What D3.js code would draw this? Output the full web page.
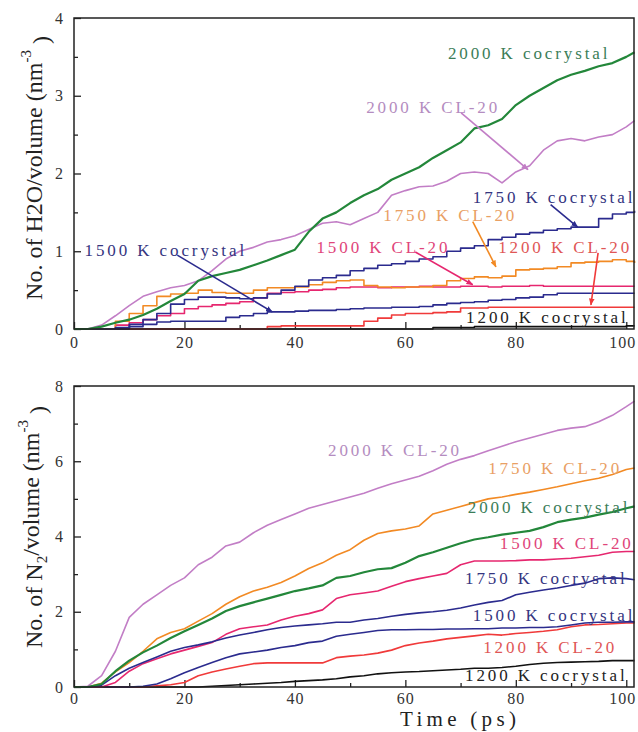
<!DOCTYPE html>
<html>
<head>
<meta charset="utf-8">
<script src="https://cdn.jsdelivr.net/npm/d3@7"></script>
<style>
  body { margin: 0; background: #fff; }
  text { font-family: "Liberation Serif", "Times New Roman", serif; }
</style>
</head>
<body>
<svg width="638" height="732"></svg>
<script>
// time grid (ps) shared by every curve
const TIME = [0, 2.5, 5, 7.5, 10, 12.5, 15, 17.5, 20, 22.5, 25, 27.5, 30, 32.5, 35, 37.5, 40,
    42.5, 45, 47.5, 50, 52.5, 55, 57.5, 60, 62.5, 65, 67.5, 70, 72.5, 75, 77.5, 80, 82.5, 85,
    87.5, 90, 92.5, 95, 97.5, 100, 101.5];

const X_TICKS = [0, 20, 40, 60, 80, 100];
const H2O_TICKS = [0, 1, 2, 3, 4];
const N2_TICKS = [0, 2, 4, 6, 8];

// H2O per volume (nm^-3)
const h2oCo2000 = [0, 0, 0.03, 0.08, 0.12, 0.18, 0.26, 0.36, 0.45, 0.62, 0.68, 0.72, 0.76, 0.82, 0.88, 0.95, 1.02, 1.25, 1.42, 1.5, 1.62, 1.72, 1.8, 1.92, 2.0, 2.08, 2.2, 2.3, 2.4, 2.58, 2.62, 2.7, 2.88, 3.0, 3.1, 3.2, 3.27, 3.32, 3.38, 3.42, 3.5, 3.56];
const h2oCl2000 = [0, 0, 0.05, 0.17, 0.3, 0.42, 0.48, 0.53, 0.56, 0.62, 0.75, 0.9, 1.0, 1.05, 1.12, 1.15, 1.2, 1.28, 1.36, 1.38, 1.34, 1.42, 1.5, 1.72, 1.78, 1.83, 1.84, 1.9, 2.0, 2.02, 2.0, 1.88, 2.02, 2.1, 2.3, 2.42, 2.45, 2.42, 2.47, 2.5, 2.6, 2.68];
const h2oCo1750 = [0, 0, 0, 0.02, 0.06, 0.12, 0.2, 0.32, 0.38, 0.41, 0.41, 0.4, 0.39, 0.4, 0.45, 0.5, 0.55, 0.63, 0.66, 0.69, 0.75, 0.78, 0.82, 0.84, 0.87, 0.9, 0.93, 1.0, 1.04, 1.07, 1.15, 1.18, 1.22, 1.24, 1.27, 1.29, 1.31, 1.31, 1.42, 1.48, 1.5, 1.52];
const h2oCl1750 = [0, 0, 0, 0.1, 0.2, 0.3, 0.42, 0.45, 0.46, 0.5, 0.47, 0.46, 0.46, 0.5, 0.53, 0.53, 0.54, 0.57, 0.6, 0.62, 0.63, 0.56, 0.54, 0.53, 0.54, 0.54, 0.56, 0.62, 0.65, 0.67, 0.66, 0.68, 0.76, 0.77, 0.78, 0.8, 0.85, 0.86, 0.87, 0.89, 0.87, 0.85];
const h2oCl1500 = [0, 0, 0, 0.05, 0.08, 0.12, 0.17, 0.2, 0.26, 0.29, 0.31, 0.33, 0.35, 0.4, 0.46, 0.47, 0.48, 0.5, 0.51, 0.53, 0.54, 0.54, 0.53, 0.54, 0.54, 0.55, 0.54, 0.54, 0.55, 0.55, 0.54, 0.55, 0.55, 0.56, 0.55, 0.55, 0.55, 0.55, 0.55, 0.55, 0.55, 0.55];
const h2oCo1500 = [0, 0, 0, 0, 0.03, 0.06, 0.09, 0.1, 0.1, 0.1, 0.1, 0.15, 0.17, 0.2, 0.22, 0.22, 0.23, 0.24, 0.24, 0.25, 0.26, 0.27, 0.27, 0.28, 0.28, 0.29, 0.31, 0.33, 0.34, 0.35, 0.37, 0.38, 0.4, 0.41, 0.44, 0.46, 0.46, 0.46, 0.46, 0.46, 0.46, 0.46];
const h2oCl1200 = [0, 0, 0, 0, 0, 0, 0, 0, 0, 0, 0, 0, 0, 0, 0.03, 0.04, 0.04, 0.04, 0.04, 0.04, 0.04, 0.1, 0.14, 0.18, 0.2, 0.2, 0.21, 0.22, 0.27, 0.27, 0.28, 0.28, 0.28, 0.28, 0.28, 0.28, 0.28, 0.28, 0.28, 0.28, 0.28, 0.28];
const h2oCo1200 = [0, 0, 0, 0, 0, 0, 0, 0, 0, 0, 0, 0, 0, 0, 0, 0, 0, 0, 0, 0, 0, 0, 0, 0, 0, 0, 0.02, 0.02, 0.02, 0.03, 0.03, 0.03, 0.03, 0.03, 0.03, 0.03, 0.03, 0.03, 0.03, 0.03, 0.04, 0.04];

// N2 per volume (nm^-3)
const n2Cl2000 = [0, 0.02, 0.3, 0.95, 1.85, 2.2, 2.45, 2.7, 2.9, 3.25, 3.45, 3.75, 3.85, 4.1, 4.3, 4.45, 4.6, 4.75, 4.85, 4.95, 5.05, 5.15, 5.28, 5.4, 5.5, 5.6, 5.75, 5.92, 6.05, 6.15, 6.28, 6.4, 6.52, 6.62, 6.72, 6.82, 6.88, 6.92, 7.05, 7.22, 7.45, 7.6];
const n2Cl1750 = [0, 0, 0.1, 0.4, 0.65, 0.95, 1.28, 1.45, 1.55, 1.75, 1.95, 2.2, 2.4, 2.55, 2.65, 2.78, 2.95, 3.15, 3.3, 3.5, 3.65, 3.9, 4.08, 4.15, 4.2, 4.28, 4.6, 4.7, 4.8, 4.9, 5.0, 5.05, 5.12, 5.18, 5.25, 5.32, 5.4, 5.48, 5.55, 5.65, 5.78, 5.82];
const n2Co2000 = [0, 0, 0.08, 0.42, 0.7, 0.92, 1.1, 1.3, 1.48, 1.65, 1.82, 2.02, 2.15, 2.25, 2.35, 2.45, 2.55, 2.62, 2.7, 2.9, 2.95, 3.05, 3.13, 3.16, 3.3, 3.48, 3.58, 3.7, 3.82, 3.92, 3.98, 4.05, 4.1, 4.15, 4.25, 4.38, 4.45, 4.5, 4.58, 4.65, 4.75, 4.8];
const n2Cl1500 = [0, 0, 0, 0.12, 0.42, 0.62, 0.75, 0.88, 0.98, 1.08, 1.18, 1.4, 1.55, 1.6, 1.65, 1.78, 1.88, 1.95, 2.05, 2.35, 2.45, 2.5, 2.55, 2.68, 2.8, 2.88, 2.95, 3.02, 3.25, 3.35, 3.35, 3.35, 3.36, 3.38, 3.38, 3.4, 3.42, 3.46, 3.5, 3.58, 3.6, 3.6];
const n2Co1750 = [0, 0, 0.05, 0.3, 0.5, 0.65, 0.8, 0.95, 1.05, 1.12, 1.2, 1.3, 1.38, 1.45, 1.52, 1.58, 1.62, 1.65, 1.68, 1.72, 1.72, 1.78, 1.82, 1.88, 1.93, 1.97, 2.0, 2.04, 2.1, 2.18, 2.25, 2.3, 2.45, 2.52, 2.58, 2.63, 2.7, 2.76, 2.88, 2.9, 2.88, 2.85];
const n2Co1500 = [0, 0, 0, 0, 0, 0.02, 0.08, 0.22, 0.38, 0.52, 0.65, 0.78, 0.88, 0.93, 0.98, 1.05, 1.1, 1.18, 1.22, 1.35, 1.4, 1.45, 1.5, 1.52, 1.52, 1.53, 1.53, 1.54, 1.54, 1.55, 1.55, 1.57, 1.57, 1.58, 1.58, 1.6, 1.65, 1.7, 1.72, 1.72, 1.73, 1.73];
const n2Cl1200 = [0, 0, 0, 0, 0, 0, 0.03, 0.06, 0.12, 0.3, 0.4, 0.48, 0.55, 0.62, 0.64, 0.64, 0.64, 0.64, 0.64, 0.78, 0.82, 0.85, 0.9, 0.98, 1.1, 1.17, 1.22, 1.28, 1.32, 1.36, 1.4, 1.38, 1.42, 1.45, 1.48, 1.52, 1.6, 1.65, 1.66, 1.68, 1.7, 1.7];
const n2Co1200 = [0, 0, 0, 0, 0, 0, 0, 0, 0, 0, 0.02, 0.04, 0.06, 0.08, 0.1, 0.12, 0.15, 0.17, 0.19, 0.22, 0.27, 0.3, 0.35, 0.38, 0.4, 0.41, 0.43, 0.45, 0.47, 0.5, 0.5, 0.52, 0.55, 0.6, 0.63, 0.65, 0.66, 0.67, 0.68, 0.7, 0.7, 0.7];

// series names, in drawing order (bottom first)
const NAMES = ["1200 K cocrystal", "1200 K CL-20", "1500 K cocrystal", "1500 K CL-20",
    "1750 K CL-20", "1750 K cocrystal", "2000 K CL-20", "2000 K cocrystal"];
const H2O_SERIES = [h2oCo1200, h2oCl1200, h2oCo1500, h2oCl1500, h2oCl1750, h2oCo1750, h2oCl2000, h2oCo2000];
const N2_SERIES = [n2Co1200, n2Cl1200, n2Co1500, n2Cl1500, n2Cl1750, n2Co1750, n2Cl2000, n2Co2000];

// label anchors (start of text, baseline) in data units, and arrows [from, to]
const H2O_LABELS = [
    { name: "2000 K cocrystal", at: [67.7, 3.47] },
    { name: "2000 K CL-20", at: [52.9, 2.78], arrow: [[70.1, 2.78], [82.2, 2.05]] },
    { name: "1750 K cocrystal", at: [72.2, 1.62], arrow: [[86.3, 1.6], [91.2, 1.31]] },
    { name: "1750 K CL-20", at: [56.0, 1.39], arrow: [[72.2, 1.38], [76.4, 0.8]] },
    { name: "1500 K CL-20", at: [43.9, 0.98], arrow: [[61.8, 0.99], [72.2, 0.57]] },
    { name: "1200 K CL-20", at: [76.8, 0.98], arrow: [[94.9, 0.98], [93.6, 0.31]] },
    { name: "1500 K cocrystal", at: [1.9, 0.94], arrow: [[18.7, 0.95], [35.9, 0.22]] },
    { name: "1200 K cocrystal", at: [71.0, 0.08] }
];
const N2_LABELS = [
    { name: "2000 K CL-20", at: [46.0, 6.14] },
    { name: "1750 K CL-20", at: [75.0, 5.66] },
    { name: "2000 K cocrystal", at: [71.3, 4.63] },
    { name: "1500 K CL-20", at: [77.1, 3.67] },
    { name: "1750 K cocrystal", at: [70.8, 2.74] },
    { name: "1500 K cocrystal", at: [72.2, 1.76] },
    { name: "1200 K CL-20", at: [74.1, 0.9] },
    { name: "1200 K cocrystal", at: [70.8, 0.16] }
];

// styles
var lineColor = {
    "2000 K cocrystal": "#23873a", "2000 K CL-20": "#c27ec6",
    "1750 K cocrystal": "#2b2b8e", "1750 K CL-20": "#f28a24",
    "1500 K cocrystal": "#2b2b8e", "1500 K CL-20": "#e6276f",
    "1200 K cocrystal": "#111111", "1200 K CL-20": "#f03a3a"
};
var labelColor = {
    "2000 K cocrystal": "#3b7d58", "2000 K CL-20": "#b48cc0",
    "1750 K cocrystal": "#35357f", "1750 K CL-20": "#e9a064",
    "1500 K cocrystal": "#35357f", "1500 K CL-20": "#e0457a",
    "1200 K cocrystal": "#222222", "1200 K CL-20": "#e05656"
};

var svg = d3.select("svg");
var left = 74, right = 634;

var x = d3.scaleLinear().domain([0, 101.4]).range([left, right]);

// arrow heads, one per colour
var defs = svg.append("defs");
NAMES.forEach(function (n, i) {
    defs.append("marker")
        .attr("id", "head" + i)
        .attr("viewBox", "0 0 10 10")
        .attr("refX", 9).attr("refY", 5)
        .attr("markerWidth", 7).attr("markerHeight", 7)
        .attr("markerUnits", "userSpaceOnUse")
        .attr("orient", "auto")
        .append("path")
        .attr("d", "M0,1L10,5L0,9Z")
        .attr("fill", lineColor[n]);
});

function drawPanel(opt) {
    var y = d3.scaleLinear().domain([0, opt.yMax]).range([opt.bottom, opt.top]);
    var g = svg.append("g");

    // minor + major ticks, pointing inward
    g.append("g")
        .attr("transform", "translate(" + left + ",0)")
        .call(d3.axisLeft(y).tickValues(opt.yMinor).tickSize(-4).tickFormat(""))
        .call(a => a.select(".domain").remove());
    g.append("g")
        .attr("class", "yaxis")
        .attr("transform", "translate(" + left + ",0)")
        .call(d3.axisLeft(y).tickValues(opt.yTicks).tickSize(-7).tickPadding(11).tickFormat(d3.format("d")))
        .call(a => a.select(".domain").remove());
    g.append("g")
        .attr("transform", "translate(0," + opt.bottom + ")")
        .call(d3.axisBottom(x).tickValues([10, 30, 50, 70, 90]).tickSize(-4).tickFormat(""))
        .call(a => a.select(".domain").remove());
    g.append("g")
        .attr("class", "xaxis")
        .attr("transform", "translate(0," + opt.bottom + ")")
        .call(d3.axisBottom(x).tickValues(X_TICKS).tickSize(-7).tickPadding(opt.xPad))
        .call(a => a.select(".domain").remove());

    g.selectAll(".tick line").attr("stroke", "#222").attr("stroke-width", 1.3);
    g.selectAll(".tick text")
        .attr("font-family", "Liberation Serif")
        .attr("font-size", 16)
        .attr("fill", "#333");
    g.selectAll(".xaxis .tick text")
        .attr("letter-spacing", "1px")
        .attr("dx", d => d === 100 ? -4 : 0);

    // curves
    var plot = g.append("g");
    opt.series.forEach(function (vals, i) {
        var name = NAMES[i];
        var pts = d3.zip(TIME, vals);
        var line = d3.line()
            .x(d => x(d[0]))
            .y(d => y(d[1]))
            .curve(opt.step && name.indexOf("2000") < 0 ? d3.curveStepAfter : d3.curveLinear);
        plot.append("path")
            .datum(pts)
            .attr("fill", "none")
            .attr("stroke", lineColor[name])
            .attr("stroke-width", name === "2000 K cocrystal" ? 2.2 : 1.6)
            .attr("stroke-linejoin", "round")
            .attr("d", line);
    });

    // frame
    g.append("rect")
        .attr("x", left).attr("y", opt.top)
        .attr("width", right - left).attr("height", opt.bottom - opt.top)
        .attr("fill", "none")
        .attr("stroke", "#222")
        .attr("stroke-width", 1.5);

    // labels and pointers
    opt.labels.forEach(function (l) {
        var idx = NAMES.indexOf(l.name);
        g.append("text")
            .attr("x", x(l.at[0]))
            .attr("y", y(l.at[1]))
            .attr("font-size", 17)
            .attr("letter-spacing", "2.9px")
            .attr("fill", labelColor[l.name])
            .text(l.name);
        if (l.arrow) {
            g.append("line")
                .attr("x1", x(l.arrow[0][0])).attr("y1", y(l.arrow[0][1]))
                .attr("x2", x(l.arrow[1][0])).attr("y2", y(l.arrow[1][1]))
                .attr("stroke", lineColor[l.name])
                .attr("stroke-width", 1.6)
                .attr("marker-end", "url(#head" + idx + ")");
        }
    });

    // rotated y title
    var t = svg.append("text")
        .attr("transform", "translate(" + opt.titleX + "," + opt.titleY + ") rotate(-90)")
        .attr("text-anchor", "middle")
        .attr("font-size", 24)
        .attr("fill", "#222");
    opt.title(t);
}

drawPanel({
    top: 18, bottom: 329, yMax: 4,
    yTicks: H2O_TICKS, yMinor: [0.5, 1.5, 2.5, 3.5],
    xPad: 8, step: true,
    series: H2O_SERIES, labels: H2O_LABELS,
    titleX: 42, titleY: 168,
    title: function (t) {
        t.append("tspan").text("No. of H2O/volume (nm");
        t.append("tspan").attr("dy", "-0.75em").attr("font-size", 15).text("-3");
        t.append("tspan").attr("dy", "0.75em").text(" )");
    }
});

drawPanel({
    top: 386, bottom: 687, yMax: 8,
    yTicks: N2_TICKS, yMinor: [1, 3, 5, 7],
    xPad: 6, step: false,
    series: N2_SERIES, labels: N2_LABELS,
    titleX: 42, titleY: 527,
    title: function (t) {
        t.append("tspan").text("No. of N");
        t.append("tspan").attr("dy", "0.35em").attr("font-size", 15).text("2");
        t.append("tspan").attr("dy", "-0.35em").text("/volume (nm");
        t.append("tspan").attr("dy", "-0.75em").attr("font-size", 15).text("-3");
        t.append("tspan").attr("dy", "0.75em").text(" )");
    }
});

// x title
svg.append("text")
    .attr("x", 400)
    .attr("y", 726)
    .attr("font-size", 21)
    .attr("letter-spacing", "4.3px")
    .attr("fill", "#222")
    .text("Time (ps)");
</script>
</body>
</html>
